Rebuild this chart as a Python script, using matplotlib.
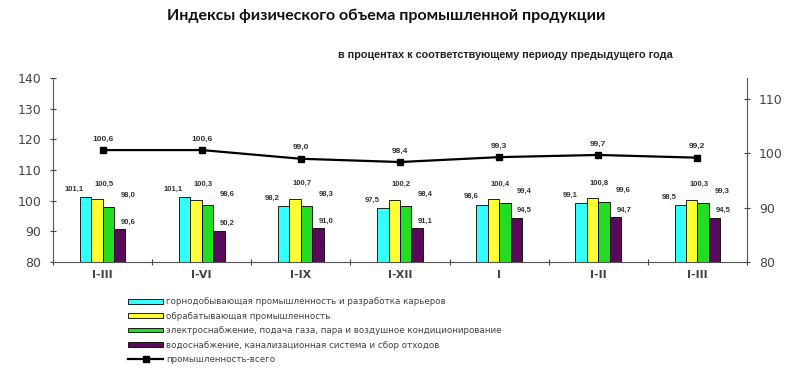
import numpy as np
from matplotlib import pyplot as plt

periods = ["I-III", "I-VI", "I-IX", "I-XII", "I", "I-II", "I-III"]

mining = [101.1, 101.1, 98.2, 97.5, 98.6, 99.1, 98.5]
manufacturing = [100.5, 100.3, 100.7, 100.2, 100.4, 100.8, 100.3]
electricity = [98.0, 98.6, 98.3, 98.4, 99.4, 99.6, 99.3]
water = [90.6, 90.2, 91.0, 91.1, 94.5, 94.7, 94.5]
industry_total = [100.6, 100.6, 99.0, 98.4, 99.3, 99.7, 99.2]

series_names = [
    "горнодобывающая промышленность и разработка карьеров",
    "обрабатывающая промышленность",
    "электроснабжение, подача газа, пара и воздушное кондиционирование",
    "водоснабжение, канализационная система и сбор отходов",
]
total_name = "промышленность-всего"

colors = ["#33ffff", "#ffff33", "#22dd22", "#5a0a5a"]
# label offsets in points (dx, dy) per series, like the original
label_offsets = [(-8, 6), (5, 11), (14, 8), (6, 5)]

plt.rcParams['font.family'] = ['DejaVu Sans']

fig = plt.figure(figsize=(8, 3.68), dpi=100)
ax = fig.add_axes([53 / 800, 1 - 262 / 368, 694 / 800, 184 / 368])
ax2 = ax.twinx()

x = np.arange(len(periods))
width = 0.115
series = [mining, manufacturing, electricity, water]
for i, (vals, col, name) in enumerate(zip(series, colors, series_names)):
    xs = x + (i - 1.5) * width
    ax.bar(xs, np.array(vals) - 80, width, bottom=80, color=col, edgecolor="black",
           linewidth=0.6, label=name)
    dx, dy = label_offsets[i]
    for xi, v in zip(xs, vals):
        ax.annotate(f"{v:.1f}".replace(".", ","), xy=(xi, v), xytext=(dx, dy),
                    textcoords="offset points", ha="center", va="center",
                    fontsize=5.5, fontweight="bold", color="#333333",
                    family=["Liberation Sans"])

ax2.plot(x, industry_total, color="black", linewidth=1.6, marker="s", markersize=5,
         label=total_name)
for xi, v in zip(x, industry_total):
    ax2.annotate(f"{v:.1f}".replace(".", ","), xy=(xi, v), xytext=(0, 8),
                 textcoords="offset points", ha="center", va="center",
                 fontsize=6, fontweight="bold", color="#333333",
                 family=["Liberation Sans"])

ax.set_xlim(-0.5, len(periods) - 0.5)
ax.set_ylim(80, 140)
ax.set_yticks([80, 90, 100, 110, 120, 130, 140])
ax2.set_ylim(80, 80 + 184 / 163 * 30)
ax2.set_yticks([80, 90, 100, 110])

ax.set_xticks(np.arange(len(periods) + 1) - 0.5, minor=False)
ax.set_xticklabels([])
ax.set_xticks(x, minor=True)
ax.set_xticklabels(periods, minor=True, fontsize=8, fontweight="bold", color="#444444")
ax.tick_params(axis="x", which="major", length=4, direction="inout", color="#444444")
ax.tick_params(axis="x", which="minor", length=0, pad=6)
ax.tick_params(axis="y", length=5, direction="inout", labelsize=9, colors="#444444",
               pad=6)
ax2.tick_params(axis="y", length=5, direction="inout", labelsize=9, colors="#444444",
                pad=6)

for a in (ax, ax2):
    a.spines["top"].set_visible(False)
    for s in ("left", "right", "bottom"):
        a.spines[s].set_color("#555555")
ax.spines["right"].set_visible(False)
ax2.spines["left"].set_visible(False)
ax2.spines["bottom"].set_visible(False)

fig.text(386 / 800, 1 - 16 / 368, "Индексы физического объема промышленной продукции",
         ha="center", va="center", fontsize=11.5, fontweight="bold",
         family=["Lato", "DejaVu Sans"], color="#111111")
fig.text(505 / 800, 1 - 55 / 368, "в процентах к соответствующему периоду предыдущего года",
         ha="center", va="center", fontsize=7.8, fontweight="bold", color="#222222",
         family=["Liberation Sans"])

h1, l1 = ax.get_legend_handles_labels()
h2, l2 = ax2.get_legend_handles_labels()
ax.legend(h1 + h2, l1 + l2, loc="upper left", bbox_to_anchor=(124 / 800, 1 - 293 / 368),
          bbox_transform=fig.transFigure, frameon=False, fontsize=6.3,
          handlelength=4.0, handleheight=0.45, labelspacing=0.62, handletextpad=0.3,
          borderpad=0, labelcolor="#444444")

plt.savefig("out.png", dpi=100)
plt.close()
